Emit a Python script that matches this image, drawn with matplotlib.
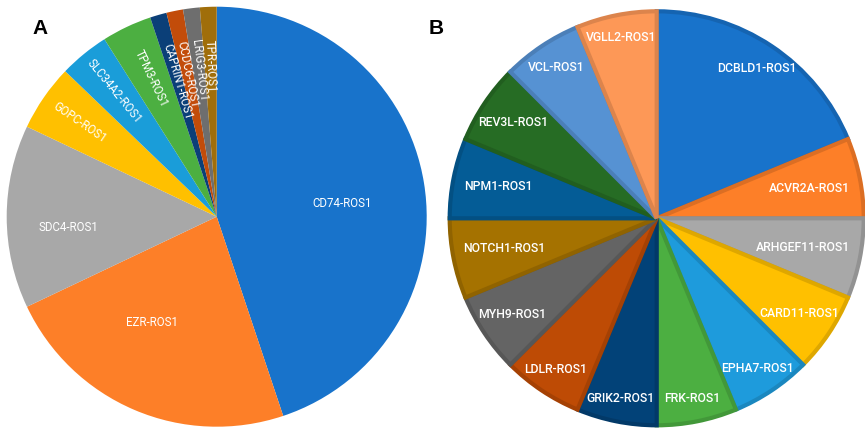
import matplotlib
matplotlib.use("Agg")
import matplotlib.pyplot as plt
import matplotlib.colors as mcolors
import numpy as np

# ---- Data: panel A ----
a_labels = ["CD74-ROS1", "EZR-ROS1", "SDC4-ROS1", "GOPC-ROS1", "SLC34A2-ROS1",
            "TPM3-ROS1", "CAPRIN1-ROS1", "CCDC6-ROS1", "LRIG3-ROS1", "TPR-ROS1"]
a_values = [35, 18, 11, 4, 3, 3, 1, 1, 1, 1]
a_colors = ["#1873CB", "#FD7F28", "#A8A8A8", "#FFC000", "#1A9DD9",
            "#4CAF41", "#0B3F78", "#C24C0A", "#6E6E6E", "#A06E0A"]

# ---- Data: panel B ----
b_labels = ["DCBLD1-ROS1", "ACVR2A-ROS1", "ARHGEF11-ROS1", "CARD11-ROS1",
            "EPHA7-ROS1", "FRK-ROS1", "GRIK2-ROS1", "LDLR-ROS1", "MYH9-ROS1",
            "NOTCH1-ROS1", "NPM1-ROS1", "REV3L-ROS1", "VCL-ROS1", "VGLL2-ROS1"]
b_values = [3, 1, 1, 1, 1, 1, 1, 1, 1, 1, 1, 1, 1, 1]
b_colors = ["#1873CB", "#FD7F28", "#A8A8A8", "#FFC000", "#1E9BDC",
            "#4CAF41", "#024278", "#BE4B05", "#646464", "#A57200",
            "#045C96", "#266C24", "#5692D3", "#FD9857"]

fig = plt.figure(figsize=(8.65, 4.34), dpi=100)
W, H = 865, 434

def make_ax(cx, cy, r):
    return fig.add_axes([(cx - r) / W, (H - cy - r) / H, 2 * r / W, 2 * r / H])

def fix_limits(ax):
    ax.set_xlim(-1, 1)
    ax.set_ylim(-1, 1)
    ax.set_aspect("equal")
    ax.axis("off")

# ---------------- Panel A ----------------
axA = make_ax(216.7, 216.7, 210)
wedgesA, _ = axA.pie(a_values, colors=a_colors, startangle=90, counterclock=False,
                     radius=1, wedgeprops=dict(linewidth=0))
fix_limits(axA)
a_rad = [0.60, 0.59, 0.71, 0.79, 0.77, 0.73, 0.67, 0.69, 0.70, 0.72]
a_dth = [-3.3, -8.2, 4.0, 0, 0, 0, 0, 0, 0, 0]
a_rotate = [False, False, False, True, True, True, True, True, True, True]
for w, lab, r, dth, rot in zip(wedgesA, a_labels, a_rad, a_dth, a_rotate):
    midd = (w.theta1 + w.theta2) / 2
    mid = np.deg2rad(midd + dth)
    x, y = r * np.cos(mid), r * np.sin(mid)
    angle = midd - 180 if rot else 0
    axA.text(x, y, lab, ha="center", va="center", rotation=angle,
             rotation_mode="anchor", color="white", fontsize=8.3,
             family="Roboto")

# ---------------- Panel B ----------------
axB = make_ax(656.7, 218.3, 207)
wedgesB, _ = axB.pie(b_values, colors=b_colors, startangle=90, counterclock=False,
                     radius=1, wedgeprops=dict(linewidth=3.0))
fix_limits(axB)
for w, c in zip(wedgesB, b_colors):
    rgb = np.array(mcolors.to_rgb(c)) * 0.87
    w.set_edgecolor(tuple(rgb))
    w.set_clip_path(w)
b_rad = [0.87, 0.75, 0.72, 0.83, 0.875, 0.89, 0.89, 0.88, 0.84,
         0.75, 0.78, 0.835, 0.875, 0.89]
for w, lab, r in zip(wedgesB, b_labels, b_rad):
    mid = np.deg2rad((w.theta1 + w.theta2) / 2)
    x, y = r * np.cos(mid), r * np.sin(mid)
    axB.text(x, y, lab, ha="center", va="center", color="white",
             fontsize=8.8, family="Roboto", fontweight="medium")

# Panel letters
fig.text(40 / W, 1 - 28 / H, "A", fontsize=15, fontweight="bold",
         ha="center", va="center", family="Liberation Sans")
fig.text(436 / W, 1 - 28 / H, "B", fontsize=15, fontweight="bold",
         ha="center", va="center", family="Liberation Sans")

fig.savefig("out.png", dpi=100)
